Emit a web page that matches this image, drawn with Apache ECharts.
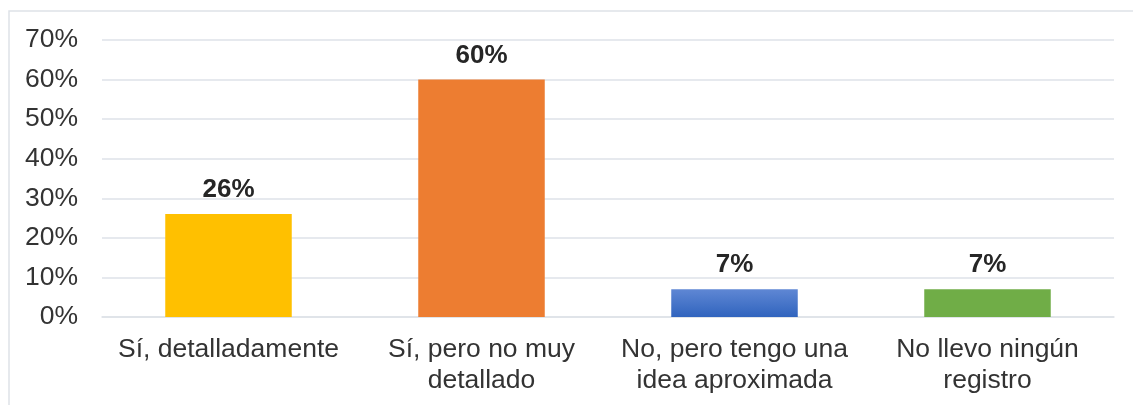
<!DOCTYPE html>
<html>
<head>
<meta charset="utf-8">
<script src="https://cdn.jsdelivr.net/npm/echarts@6/dist/echarts.min.js"></script>
<style>
html,body{margin:0;padding:0;background:#fff;}
#chart{width:1133px;height:405px;}
</style>
</head>
<body>
<div id="chart"></div>
<script>
const categories = ["Sí, detalladamente", "Sí, pero no muy\ndetallado", "No, pero tengo una\nidea aproximada", "No llevo ningún\nregistro"];
const values = [26, 60, 7, 7];
const yTicks = [0, 10, 20, 30, 40, 50, 60, 70];

const colors = [
  '#FFC000',
  '#ED7D31',
  {type:'linear', x:0, y:0, x2:0, y2:1, colorStops:[{offset:0, color:'#5F87D4'},{offset:1, color:'#3064BE'}]},
  '#70AD47'
];
const FONT = '"Liberation Sans", Arial, sans-serif';
const chart = echarts.init(document.getElementById('chart'), null, {renderer:'canvas'});
chart.setOption({
  animation: false,
  backgroundColor: '#fff',
  graphic: [{
    type: 'rect', silent: true, z: -10,
    shape: {x: 9, y: 11, width: 1300, height: 600},
    style: {fill: 'none', stroke: '#DEE2E8', lineWidth: 1.5}
  }],
  grid: {left: 102, right: 19, top: 40, bottom: 88, containLabel: false},
  xAxis: {
    type: 'category',
    data: categories,
    axisLine: {show: true, lineStyle: {color: '#DEE2E8', width: 1.5}},
    axisTick: {show: false},
    axisLabel: {
      interval: 0, margin: 17, color: '#333333',
      fontFamily: FONT, fontSize: 26.5, lineHeight: 31
    }
  },
  yAxis: {
    type: 'value',
    min: yTicks[0], max: yTicks[yTicks.length - 1], interval: 10,
    axisLine: {show: false},
    axisTick: {show: false},
    splitLine: {lineStyle: {color: '#DEE2E8', width: 1.5}},
    axisLabel: {
      margin: 24, color: '#333333', fontFamily: FONT, fontSize: 26.5,
      formatter: v => v + '%'
    }
  },
  series: [{
    type: 'bar',
    barWidth: '50%',
    data: values.map((v, i) => ({value: v, itemStyle: {color: colors[i]}})),
    label: {
      show: true, position: 'top', distance: 11,
      formatter: p => p.value + '%',
      color: '#262626', fontFamily: FONT, fontSize: 26, fontWeight: 'bold'
    }
  }]
});
</script>
</body>
</html>
